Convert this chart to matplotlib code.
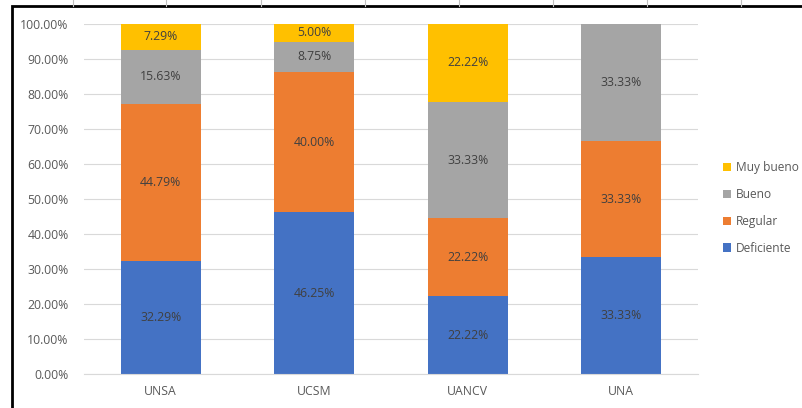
import numpy as np
import matplotlib.pyplot as plt
from matplotlib.patches import Rectangle
from matplotlib.lines import Line2D

# data
universidades = ["UNSA", "UCSM", "UANCV", "UNA"]
deficiente = [32.29, 46.25, 22.22, 33.33]
regular = [44.79, 40.00, 22.22, 33.33]
bueno = [15.63, 8.75, 33.33, 33.33]
muy_bueno = [7.29, 5.00, 22.22, 0.0]

series = [("Deficiente", deficiente, "#4472C4"),
          ("Regular", regular, "#ED7D31"),
          ("Bueno", bueno, "#A5A5A5"),
          ("Muy bueno", muy_bueno, "#FFC000")]

plt.rcParams['font.family'] = ['Open Sans', 'DejaVu Sans']

fig = plt.figure(figsize=(8.03, 4.08), dpi=100)
ax = fig.add_axes([84/803, 1-374/408, (698-84)/803, (374-24)/408])

x = np.arange(len(universidades))
bottom = np.zeros(len(universidades))
handles = []
for name, vals, col in series:
    vals = np.array(vals)
    b = ax.bar(x, vals, 0.52, bottom=bottom, color=col, label=name, zorder=2)
    for xi, v, bt in zip(x, vals, bottom):
        if v > 0:
            ax.text(xi, bt + v/2, f"{v:.2f}%", ha='center', va='center',
                    fontsize=8.8, color='#404040', zorder=3)
    bottom += vals
    handles.append(b)

ax.set_xlim(-0.5, len(universidades) - 0.5)
ax.set_ylim(0, 100)
ax.set_yticks(np.arange(0, 101, 10))
ax.set_yticklabels([f"{t:.2f}%" for t in np.arange(0, 101, 10)])
ax.set_xticks(x)
ax.set_xticklabels(universidades)
ax.tick_params(axis='both', length=0, labelsize=8.8, colors='#595959')
ax.tick_params(axis='y', pad=11)
ax.tick_params(axis='x', pad=8)
ax.yaxis.grid(True, color='#D9D9D9', linewidth=0.8, zorder=0)
for s in ['top', 'right', 'left']:
    ax.spines[s].set_visible(False)
ax.spines['bottom'].set_color('#D9D9D9')

leg = fig.legend(handles[::-1], [s[0] for s in series][::-1],
                 loc='center left', bbox_to_anchor=(712/803, 1-208/408),
                 frameon=False, fontsize=8.6, handlelength=0.7, handleheight=0.7,
                 handletextpad=0.4, labelspacing=1.15, labelcolor='#595959')

# chart frame and spreadsheet cell lines above it
fig.patches.append(Rectangle((12/803, -0.05), 1.1, 1-6/408 + 0.05,
                             transform=fig.transFigure, fill=False,
                             edgecolor='black', linewidth=2))
for cx in [73, 166, 261, 365, 459, 553, 647, 741]:
    fig.lines.append(Line2D([cx/803, cx/803], [1-6/408, 1], transform=fig.transFigure,
                            color='#BFBFBF', linewidth=0.8))

fig.savefig("out.png", dpi=100)
